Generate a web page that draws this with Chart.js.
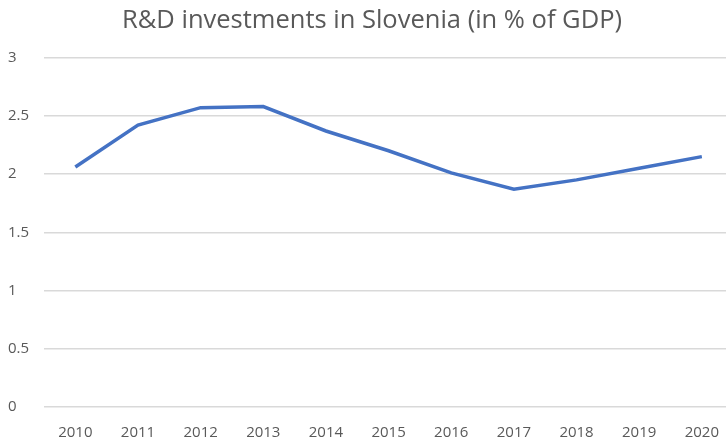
<!DOCTYPE html>
<html>
<head>
<meta charset="utf-8">
<script src="https://cdn.jsdelivr.net/npm/chart.js@4/dist/chart.umd.min.js"></script>
<style>
    html, body { margin: 0; padding: 0; background: #fff; overflow: hidden; }
    #wrap { width: 736px; height: 441px; }
</style>
</head>
<body>
<div id="wrap"><canvas id="rdChart"></canvas></div>
<script>
const years = ['2010', '2011', '2012', '2013', '2014', '2015', '2016', '2017', '2018', '2019', '2020'];
const rdShare = [2.06, 2.42, 2.57, 2.58, 2.37, 2.20, 2.01, 1.87, 1.95, 2.05, 2.15];
const yTicks = [0, 0.5, 1, 1.5, 2, 2.5, 3];

const textColor = '#595959';
const gridColor = '#d9d9d9';

const ctx = document.getElementById('rdChart').getContext('2d');
new Chart(ctx, {
    type: 'line',
    data: {
        labels: years,
        datasets: [{
            label: 'R&D',
            data: rdShare,
            borderColor: '#4472c4',
            borderWidth: 3.5,
            pointRadius: 0,
            tension: 0,
            fill: false
        }]
    },
    options: {
        responsive: true,
        maintainAspectRatio: false,
        animation: false,
        layout: { padding: { left: 8, right: 0, top: 0, bottom: 0 } },
        plugins: {
            legend: { display: false },
            tooltip: { enabled: false },
            title: {
                display: true,
                text: 'R&D investments in Slovenia (in % of GDP)',
                color: textColor,
                font: { family: 'Open Sans', size: 25.5, weight: 'normal' },
                padding: { top: 5, bottom: 22 }
            }
        },
        scales: {
            x: {
                offset: true,
                grid: { display: false, drawTicks: false },
                border: { display: false },
                afterFit: scale => { scale.height = 34; },
                ticks: {
                    color: textColor,
                    font: { family: 'Open Sans', size: 15 },
                    padding: 17,
                    maxRotation: 0
                }
            },
            y: {
                min: 0,
                max: 3,
                afterBuildTicks: scale => {
                    scale.ticks = yTicks.map(v => ({ value: v }));
                },
                afterFit: scale => { scale.width = 36; },
                grid: { color: gridColor, lineWidth: 1.5, drawTicks: false },
                border: { display: false },
                ticks: {
                    color: textColor,
                    font: { family: 'Open Sans', size: 15 },
                    crossAlign: 'far',
                    padding: 8,
                    callback: v => String(v)
                }
            }
        }
    }
});
</script>
</body>
</html>
